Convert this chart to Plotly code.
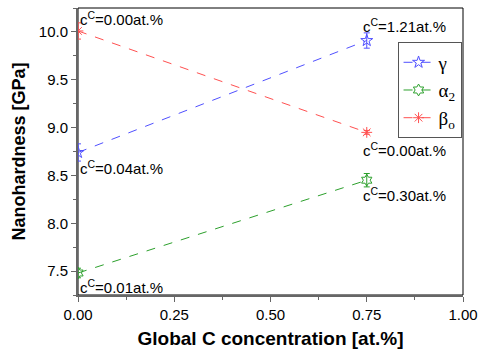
import plotly.graph_objects as go

x_vals = [0.0, 0.75]
gamma = [8.74, 9.91]
gamma_err = [0.09, 0.08]
alpha2 = [7.48, 8.45]
alpha2_err = [0.05, 0.07]
beta = [10.01, 8.95]
beta_err = [0.085, 0.02]

ann_x = [0.0, 0.0, 0.0, 0.75, 0.75, 0.75]
ann_y = [10.14, 8.58, 7.34, 10.07, 8.77, 8.30]
ann_text = ["c<sup>C</sup>=0.00at.%", "c<sup>C</sup>=0.04at.%", "c<sup>C</sup>=0.01at.%",
            "c<sup>C</sup>=1.21at.%", "c<sup>C</sup>=0.00at.%", "c<sup>C</sup>=0.30at.%"]
ann_shift = [0, 0, 0, -6, -6, -6]

x_ticks = [0.0, 0.25, 0.5, 0.75, 1.0]
y_ticks = [7.5, 8.0, 8.5, 9.0, 9.5, 10.0]

fig = go.Figure()
series = [
    ("γ", gamma, gamma_err, "#5050ff", "star-open"),
    ("α<sub>2</sub>", alpha2, alpha2_err, "#2ca02c", "hexagram-open"),
    ("β<sub>o</sub>", beta, beta_err, "#ff5050", "asterisk-open"),
]
for name, ys, err, col, sym in series:
    fig.add_trace(go.Scatter(
        x=x_vals, y=ys, name=name, mode="lines+markers",
        line=dict(color=col, width=1, dash="dash"),
        marker=dict(symbol=sym, size=9, color=col, line=dict(color=col, width=1)),
        error_y=dict(type="data", array=err, color=col, thickness=1, width=3),
    ))

for xv, yv, t, s in zip(ann_x, ann_y, ann_text, ann_shift):
    fig.add_annotation(x=xv, y=yv, text=t, showarrow=False, xanchor="left",
                       yanchor="middle", xshift=s,
                       font=dict(family="Arial, Liberation Sans", size=15, color="black"))

fig.add_shape(type="rect", xref="paper", yref="paper", x0=0, y0=0, x1=1, y1=1,
              line=dict(color="black", width=1), layer="below")

fig.update_layout(
    width=486, height=354,
    margin=dict(l=78, r=15, t=8, b=57),
    paper_bgcolor="white", plot_bgcolor="white",
    font=dict(family="Arial, Liberation Sans", size=15, color="black"),
    showlegend=True,
    legend=dict(x=0.83, y=0.88, xanchor="left", yanchor="top",
                bordercolor="#555", borderwidth=1, bgcolor="white",
                font=dict(family="Liberation Serif, Times New Roman", size=19),
                itemwidth=30, tracegroupgap=2),
    xaxis=dict(range=[0, 1], tickvals=x_ticks, ticktext=[f"{v:.2f}" for v in x_ticks],
               showgrid=False, zeroline=False, showline=True, linecolor="#666", linewidth=2,
               ticks="outside", ticklen=5, tickcolor="#666", tickwidth=1,
               minor=dict(dtick=0.125, ticks="outside", ticklen=3, tickcolor="#666"),
               title=dict(text="<b>Global C concentration [at.%]</b>", font=dict(size=19), standoff=10)),
    yaxis=dict(range=[7.25, 10.25], tickvals=y_ticks, ticktext=[f"{v:.1f}" for v in y_ticks],
               showgrid=False, zeroline=False, showline=True, linecolor="#666", linewidth=2,
               ticks="outside", ticklen=5, tickcolor="#666", tickwidth=1,
               minor=dict(dtick=0.25, ticks="outside", ticklen=3, tickcolor="#666"),
               title=dict(text="<b>Nanohardness [GPa]</b>", font=dict(size=18), standoff=8)),
)

fig.write_html("out.html")
